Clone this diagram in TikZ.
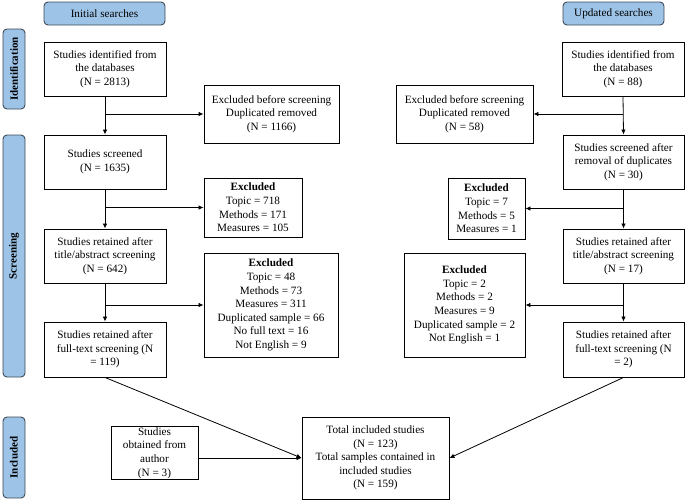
\documentclass[tikz,border=0pt]{standalone}
\usepackage{fontspec}
\setmainfont{Liberation Serif}
\usetikzlibrary{arrows.meta}
\definecolor{hdrblue}{HTML}{9DC3E6}
\definecolor{hdrline}{HTML}{3F4A57}
\begin{document}
\begin{tikzpicture}[x=1pt,y=-1pt,
  box/.style={draw=black, line width=0.9pt, align=center, inner sep=1pt,
    font=\fontsize{11.2}{13.6}\selectfont},
  hdr/.style={draw=hdrline, line width=0.9pt, fill=hdrblue, rounded corners=4pt,
    align=center, inner sep=0pt, font=\fontsize{11.2}{13}\selectfont},
  side/.style={draw=hdrline, line width=0.9pt, fill=hdrblue, rounded corners=4pt,
    inner sep=0pt, rotate=90, font=\bfseries\fontsize{11}{12}\selectfont},
  arr/.style={line width=0.8pt, -{Latex[length=5pt,width=4.5pt]}}]
\useasboundingbox (0,0) rectangle (685,501);
% headers
\node[hdr, minimum width=121pt, minimum height=23pt] (hInit) at (104.5,13.5) {Initial searches};
\node[hdr, minimum width=101pt, minimum height=23pt] (hUpd) at (613.5,13.5) {Updated searches};
% side labels
\node[side, minimum width=80pt, minimum height=22pt] (sId) at (14,69) {Identification};
\node[side, minimum width=242pt, minimum height=22pt] (sSc) at (14,256) {Screening};
\node[side, minimum width=81pt, minimum height=22pt] (sIn) at (14,457.5) {Included};
% left column
\node[box, minimum width=122pt, minimum height=54pt] (A1) at (105,69) {Studies identified from\\the databases\\(N = 2813)};
\node[box, minimum width=135pt, minimum height=58pt] (E1) at (271.5,114) {Excluded before screening\\Duplicated removed\\(N = 1166)};
\node[box, minimum width=122pt, minimum height=54pt] (A2) at (105,162) {Studies screened\\(N = 1635)};
\node[box, minimum width=98pt, minimum height=59pt] (E2) at (253,207.5) {\textbf{Excluded}\\Topic = 718\\Methods = 171\\Measures = 105};
\node[box, minimum width=122pt, minimum height=54pt] (A3) at (105,256) {Studies retained after\\title/abstract screening\\(N = 642)};
\node[box, minimum width=134pt, minimum height=104pt] (E3) at (271,305) {\textbf{Excluded}\\Topic = 48\\Methods = 73\\Measures = 311\\Duplicated sample = 66\\No full text = 16\\Not English = 9};
\node[box, minimum width=122pt, minimum height=55pt] (A4) at (105,349.5) {Studies retained after\\full-text screening (N\\= 119)};
% right column
\node[box, minimum width=122pt, minimum height=54pt] (B1) at (623,69) {Studies identified from\\the databases\\(N = 88)};
\node[box, minimum width=137pt, minimum height=58pt] (F1) at (464.5,114) {Excluded before screening\\Duplicated removed\\(N = 58)};
\node[box, minimum width=121pt, minimum height=54pt] (B2) at (623.5,162) {Studies screened after\\removal of duplicates\\(N = 30)};
\node[box, minimum width=77pt, minimum height=61pt] (F2) at (486.5,208.5) {\textbf{Excluded}\\Topic = 7\\Methods = 5\\Measures = 1};
\node[box, minimum width=121pt, minimum height=54pt] (B3) at (623.5,256) {Studies retained after\\title/abstract screening\\(N = 17)};
\node[box, minimum width=121pt, minimum height=104pt] (F3) at (464.5,305) {\textbf{Excluded}\\Topic = 2\\Methods = 2\\Measures = 9\\Duplicated sample = 2\\Not English = 1};
\node[box, minimum width=121pt, minimum height=55pt] (B4) at (623.5,349.5) {Studies retained after\\full-text screening (N\\= 2)};
% bottom
\node[box, minimum width=87pt, minimum height=52pt] (Au) at (154.5,453) {Studies\\obtained from\\author\\(N = 3)};
\node[box, minimum width=147pt, minimum height=82pt] (T) at (375.5,458) {Total included studies\\(N = 123)\\Total samples contained in\\included studies\\(N = 159)};
% connectors left
\draw[arr] (A1.south) -- (A2.north);
\draw[arr] (A1.south |- E1.west) -- (E1.west);
\draw[arr] (A2.south) -- (A3.north);
\draw[arr] (A2.south |- E2.west) -- (E2.west);
\draw[arr] (A3.south) -- (A4.north);
\draw[arr] (A3.south |- E3.west) -- (E3.west);
% connectors right
\draw[arr] (B1.south) -- (B2.north);
\draw[arr] (B1.south |- F1.east) -- (F1.east);
\draw[arr] (B2.south) -- (B3.north);
\draw[arr] (B2.south |- F2.east) -- (F2.east);
\draw[arr] (B3.south) -- (B4.north);
\draw[arr] (B3.south |- F3.east) -- (F3.east);
% to total
\draw[arr] (A4.south) -- (T.west);
\draw[arr] (Au.east |- T.west) -- (T.west);
\draw[arr] (B4.south) -- (T.east);
\end{tikzpicture}
\end{document}
